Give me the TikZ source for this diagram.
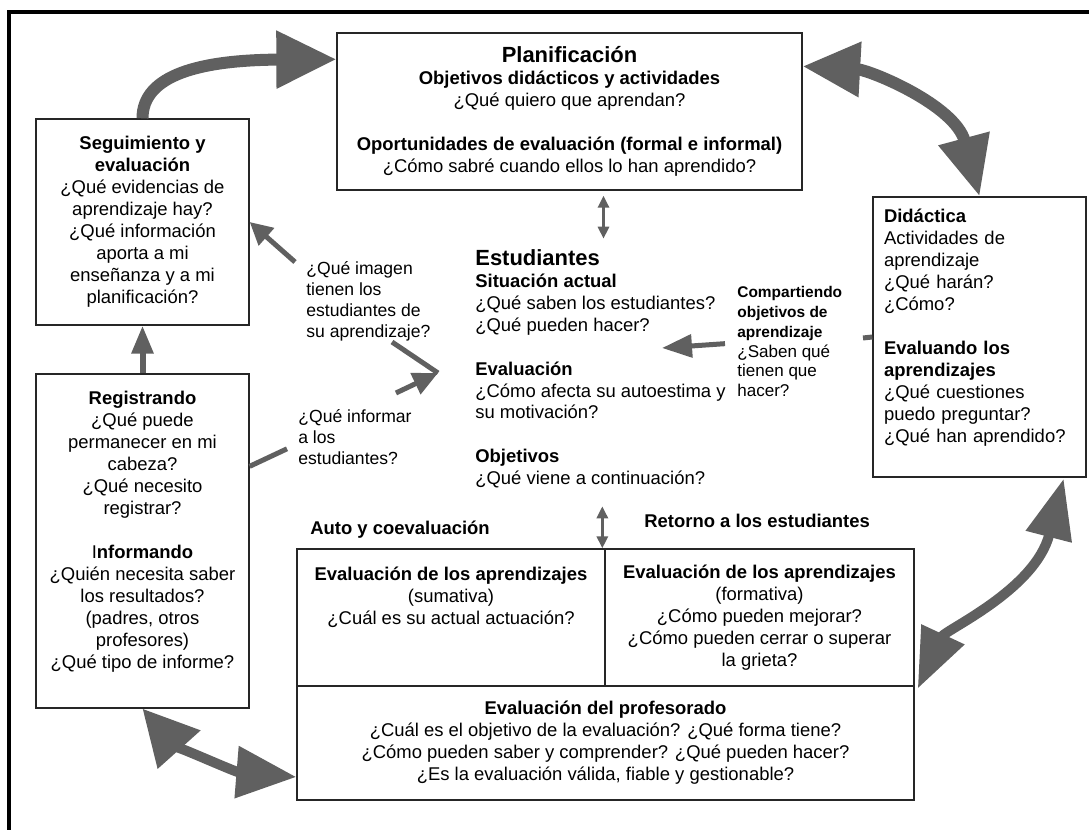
\documentclass[tikz,border=0pt]{standalone}
\usepackage{fontspec}
\setmainfont{Liberation Sans}
\usetikzlibrary{arrows.meta,calc}
\definecolor{arrgray}{HTML}{606060}
\newcommand{\hdfont}{\fontsize{12.5}{14}\selectfont\bfseries}
\newcommand{\compbf}{\fontsize{8.8}{11.3}\selectfont\bfseries}

\begin{document}
\begin{tikzpicture}[x=0.02cm, y=-0.02cm,
    every node/.style={font=\fontsize{10.5}{12.5}\selectfont, inner sep=0pt},
    box/.style={draw=black!85, line width=0.8pt, align=center},
    lbl/.style={align=left, font=\fontsize{10}{11.9}\selectfont},
    fat/.style={draw=arrgray, line width=0.24cm},
    mid/.style={draw=arrgray, line width=0.1cm},
    thinarr/.style={draw=arrgray, line width=0.06cm,
        {Triangle[length=0.24cm,width=0.22cm]}-{Triangle[length=0.24cm,width=0.22cm]}}]
    \useasboundingbox (0,0) rectangle (1089,830);

    % Outer frame
    \draw[line width=2pt] (1089,12) -- (9,12) -- (9,830);

    % Planning box
    \node[box, minimum width=9.3cm, minimum height=3.14cm] (plan) at (569.5,111.5)
        {{\hdfont Planificación}\\ \textbf{Objetivos didácticos y actividades}\\
         ¿Qué quiero que aprendan?\\[12.5pt]
         \textbf{Oportunidades de evaluación (formal e informal)}\\
         ¿Cómo sabré cuando ellos lo han aprendido?};

    % Left boxes
    \node[box, minimum width=4.26cm, minimum height=4.12cm] (seg) at (142.5,222)
        {\textbf{Seguimiento y}\\ \textbf{evaluación}\\ ¿Qué evidencias de\\ aprendizaje hay?\\
         ¿Qué información\\ aporta a mi\\ enseñanza y a mi\\ planificación?};
    \node[box, minimum width=4.26cm, minimum height=6.68cm] (reg) at (142.5,541)
        {\textbf{Registrando}\\ ¿Qué puede\\ permanecer en mi\\ cabeza?\\ ¿Qué necesito\\ registrar?\\[12.5pt]
         I\textbf{nformando}\\ ¿Quién necesita saber\\ los resultados?\\ (padres, otros\\ profesores)\\
         ¿Qué tipo de informe?\\ \mbox{}};

    % Right box
    \node[box, align=left, text width=3.82cm, inner xsep=0.22cm, minimum height=5.6cm] (did) at (979.5,337)
        {\textbf{Didáctica}\\ Actividades de\\ aprendizaje\\ ¿Qué harán?\\ ¿Cómo?\\[12.5pt]
         \textbf{Evaluando los}\\ \textbf{aprendizajes}\\ ¿Qué cuestiones\\ puedo preguntar?\\ ¿Qué han aprendido?\\ \mbox{}};

    % Bottom table
    \node[box, minimum width=6.16cm, minimum height=2.74cm] (sum) at (451,617.5)
        {\textbf{Evaluación de los aprendizajes}\\ (sumativa)\\ ¿Cuál es su actual actuación?\\ \mbox{}\\ \mbox{}};
    \node[box, minimum width=6.18cm, minimum height=2.74cm] (form) at (759.5,617.5)
        {\textbf{Evaluación de los aprendizajes}\\ (formativa)\\ ¿Cómo pueden mejorar?\\
         ¿Cómo pueden cerrar o superar\\ la grieta?};
    \node[box, minimum width=12.34cm, minimum height=2.28cm] (prof) at (605.5,743)
        {\textbf{Evaluación del profesorado}\\ ¿Cuál es el objetivo de la evaluación? ¿Qué forma tiene?\\
         ¿Cómo pueden saber y comprender? ¿Qué pueden hacer?\\ ¿Es la evaluación válida, fiable y gestionable?};
    \node[anchor=west] (auto) at (310,530) {\textbf{Auto y coevaluación}};
    \node[anchor=west] (retorno) at (644,521) {\textbf{Retorno a los estudiantes}};

    % Students
    \node[anchor=north west, align=left] (stu) at (475,249)
        {{\hdfont Estudiantes}\\ \textbf{Situación actual}\\ ¿Qué saben los estudiantes?\\ ¿Qué pueden hacer?\\[12.5pt]
         \textbf{Evaluación}\\ ¿Cómo afecta su autoestima y\\ su motivación?\\[12.5pt]
         \textbf{Objetivos}\\ ¿Qué viene a continuación?};

    % Side labels
    \node[lbl, anchor=north west] (imagen) at (306,261) {¿Qué imagen\\ tienen los\\ estudiantes de\\ su aprendizaje?};
    \node[lbl, anchor=north west] (informar) at (298,409) {¿Qué informar\\ a los\\ estudiantes?};
    \node[anchor=north west, align=left, fill=white, font=\fontsize{9.7}{11.3}\selectfont] (comp) at (737,286)
        {{\compbf Compartiendo}\\ {\compbf objetivos de}\\ {\compbf aprendizaje}\\ ¿Saben qué\\ tienen que\\ hacer?};

    \coordinate (vpt) at (438,373);
    \coordinate (imgend) at (392,342);
    \coordinate (stutip) at (662,348);
    \coordinate (stub) at (863,338);

    % Big cycle arrows
    \draw[fat, -{Triangle[length=1.2cm,width=1.1cm]}]
        (seg.north) .. controls (142.5,75) and (200,60) .. ($(plan.north west)+(0,27)$);
    \draw[fat, {Triangle[length=1.15cm,width=1.05cm]}-{Triangle[length=1.2cm,width=1.0cm]}]
        ($(plan.north east)+(0,34)$) .. controls (870,70) and (955,105) .. (did.north);
    \draw[fat, line width=0.2cm, {Triangle[length=1.2cm,width=0.9cm]}-{Triangle[length=1.2cm,width=0.9cm]}]
        ($(form.south east)+(3,2)$) .. controls (945,630) and (1035,590) .. ($(did.south east)+(-23,1)$);
    \draw[fat, line width=0.2cm, {Triangle[length=1.1cm,width=1.1cm]}-{Triangle[length=1.2cm,width=1.0cm]}]
        (reg.south) .. controls (175,745) and (235,772) .. ($(prof.west)+(0,34)$);
    \draw[draw=arrgray, line width=0.12cm, -{Triangle[length=0.56cm,width=0.42cm]}] (reg.north) -- (seg.south);

    % Arrows around the students
    \draw[mid, -{Triangle[length=0.45cm,width=0.45cm]}] ($(imagen.north west)+(-11,1)$) -- (seg.east);
    \draw[mid] (vpt) -- (imgend);
    \draw[mid] ($(reg.north east)+(0,93)$) -- ($(informar.west)+(-11,12)$);
    \draw[mid, -{Triangle[length=0.5cm,width=0.45cm]}] ($(informar.north east)+(-16,-16)$) -- (vpt);
    \draw[mid, -{Triangle[length=0.6cm,width=0.45cm]}] ($(comp.west)+(-12,2)$) -- (stutip);
    \draw[mid] (did.west) -- (stub);
    \draw[thinarr] ($(plan.south)+(34,5)$) -- ($(plan.south)+(34,48)$);
    \draw[thinarr] ($(form.north west)+(-2,-42)$) -- ($(form.north west)+(-2,0)$);
\end{tikzpicture}
\end{document}
